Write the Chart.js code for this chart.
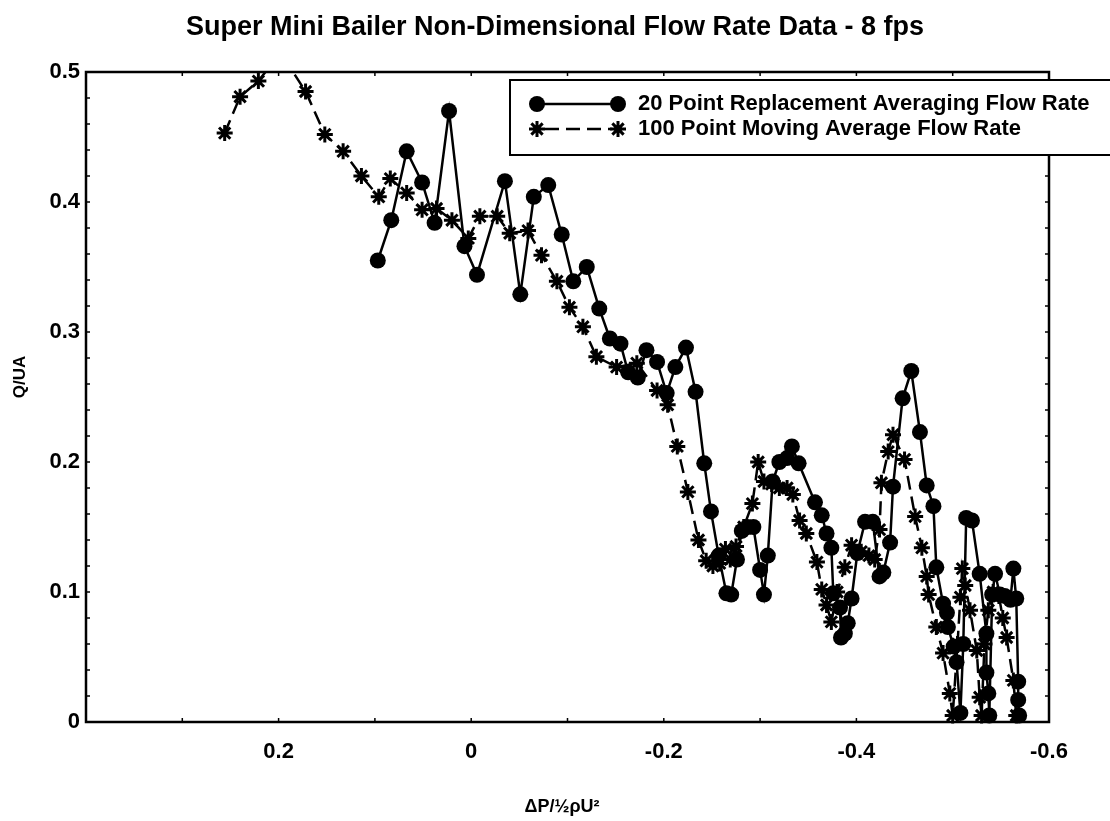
<!DOCTYPE html>
<html><head><meta charset="utf-8">
<script src="https://cdn.jsdelivr.net/npm/chart.js@4.4.0/dist/chart.umd.min.js"></script>
<style>html,body{margin:0;padding:0;background:#fff;}</style>
</head><body>
<canvas id="c" width="1110" height="821"></canvas>
<script>
const chartTitle = 'Super Mini Bailer Non-Dimensional Flow Rate Data - 8 fps';
const xTitle = 'ΔP/½ρU²';
const yTitle = 'Q/UA';
const series1Name = '20 Point Replacement Averaging Flow Rate';
const series2Name = '100 Point Moving Average Flow Rate';
const xTickLabelValues = [0.2, 0, -0.2, -0.4, -0.6];
const yTickLabelValues = [0, 0.1, 0.2, 0.3, 0.4, 0.5];

const s1X = [0.097,0.083,0.067,0.051,0.038,0.023,0.007,-0.006,-0.035,-0.051,-0.065,-0.080,-0.094,-0.106,-0.120,-0.133,-0.144,-0.155,-0.163,-0.173,-0.182,-0.193,-0.203,-0.212,-0.223,-0.233,-0.242,
 -0.249,-0.257,-0.265,-0.270,-0.276,-0.281,-0.287,-0.293,-0.300,-0.304,-0.308,-0.313,-0.320,-0.328,-0.333,-0.340,
 -0.357,-0.364,-0.369,-0.374,-0.376,-0.383,-0.384,-0.388,-0.391,-0.395,-0.401,-0.409,-0.417,-0.424,-0.428,-0.435,-0.438,-0.448,-0.457,-0.466,-0.473,-0.480,-0.483,-0.490,-0.494,-0.495,-0.501,-0.504,-0.508,
 -0.511,-0.514,-0.520,-0.528,-0.535,-0.535,-0.537,-0.538,-0.541,-0.544,-0.549,-0.554,-0.560,-0.563,-0.566,-0.568,-0.568,-0.569];
const s1Y = [0.355,0.386,0.439,0.415,0.384,0.470,0.366,0.344,0.416,0.329,0.404,0.413,0.375,0.339,0.350,0.318,0.295,0.291,0.269,0.265,0.286,0.277,0.253,0.273,0.288,0.254,0.199,
 0.162,0.128,0.099,0.098,0.125,0.147,0.150,0.150,0.117,0.098,0.128,0.185,0.200,0.203,0.212,0.199,
 0.169,0.159,0.145,0.134,0.099,0.088,0.065,0.068,0.076,0.095,0.130,0.154,0.154,0.112,0.115,0.138,0.181,0.249,0.270,0.223,0.182,0.166,0.119,0.091,0.084,0.073,0.058,0.046,0.007,
 0.060,0.157,0.155,0.114,0.068,0.038,0.022,0.005,0.098,0.114,0.098,0.097,0.094,0.118,0.095,0.031,0.017,0.005];

const s2X = [0.256,0.240,0.221,0.198,0.172,0.152,0.133,0.114,0.096,0.084,0.067,0.051,0.036,0.020,0.003,-0.009,-0.027,-0.040,-0.059,-0.073,-0.089,-0.102,-0.116,-0.130,-0.151,-0.172,-0.193,-0.204,-0.214,-0.225,
 -0.236,-0.244,-0.251,-0.258,-0.264,-0.269,-0.275,-0.283,-0.292,-0.298,-0.304,-0.312,-0.320,-0.328,-0.334,-0.341,-0.348,-0.359,-0.364,-0.369,-0.374,-0.380,-0.388,-0.395,-0.405,-0.413,-0.419,-0.424,-0.426,-0.433,-0.438,-0.450,
 -0.461,-0.468,-0.473,-0.475,-0.483,-0.490,-0.497,-0.500,-0.505,-0.508,-0.510,-0.513,-0.518,-0.525,-0.528,-0.530,-0.533,-0.537,-0.542,-0.548,-0.552,-0.556,-0.563,-0.566];
const s2Y = [0.453,0.481,0.493,0.515,0.485,0.452,0.439,0.420,0.404,0.418,0.407,0.394,0.395,0.386,0.372,0.389,0.389,0.376,0.378,0.359,0.339,0.319,0.304,0.281,0.273,0.276,0.255,0.244,0.212,0.177,
 0.140,0.124,0.120,0.122,0.133,0.125,0.135,0.150,0.168,0.200,0.185,0.183,0.180,0.180,0.175,0.155,0.145,0.123,0.102,0.090,0.077,0.100,0.119,0.136,0.131,0.128,0.125,0.148,0.184,0.208,0.221,0.202,
 0.158,0.134,0.112,0.098,0.073,0.053,0.022,0.005,0.060,0.096,0.118,0.105,0.086,0.055,0.019,0.005,0.060,0.086,0.100,0.097,0.080,0.065,0.032,0.005];

const FONT = "'Liberation Sans', Arial, sans-serif";
const toPts = (xs, ys) => xs.map((x, i) => ({x: x, y: ys[i]}));

const bgPlugin = {
  id: 'bg',
  beforeDraw(chart) {
    const ctx = chart.ctx;
    ctx.save(); ctx.fillStyle = '#fff'; ctx.fillRect(0, 0, chart.width, chart.height); ctx.restore();
  }
};

const framePlugin = {
  id: 'frame',
  afterDatasetsDraw(chart) {
    const {ctx, chartArea: a, scales: {x, y}} = chart;
    ctx.save();
    ctx.strokeStyle = '#000';
    ctx.lineWidth = 1.5;
    ctx.beginPath();
    for (let k = 0; k <= 25; k++) {
      const py = y.getPixelForValue(k * 0.02);
      ctx.moveTo(a.left, py); ctx.lineTo(a.left + 4, py);
      ctx.moveTo(a.right, py); ctx.lineTo(a.right - 4, py);
    }
    for (let k = -6; k <= 4; k++) {
      const px = x.getPixelForValue(k * 0.1);
      ctx.moveTo(px, a.bottom); ctx.lineTo(px, a.bottom - 4);
      ctx.moveTo(px, a.top); ctx.lineTo(px, a.top + 4);
    }
    ctx.stroke();
    ctx.lineWidth = 2.5;
    ctx.strokeRect(a.left, a.top, a.right - a.left, a.bottom - a.top);
    ctx.fillStyle = '#000';
    ctx.textAlign = 'center';
    ctx.textBaseline = 'middle';
    ctx.font = 'bold 27px ' + FONT;
    ctx.fillText(chartTitle, 555, 28);
    ctx.font = 'bold 18px ' + FONT;
    ctx.fillText(xTitle, 562, 807);
    ctx.translate(20, 377);
    ctx.rotate(-Math.PI / 2);
    ctx.font = 'bold 17px ' + FONT;
    ctx.fillText(yTitle, 0, 0);
    ctx.restore();
  }
};

function drawStar(ctx, cx, cy, r) {
  ctx.beginPath();
  for (let k = 0; k < 4; k++) {
    const ang = k * Math.PI / 4;
    ctx.moveTo(cx - r * Math.cos(ang), cy - r * Math.sin(ang));
    ctx.lineTo(cx + r * Math.cos(ang), cy + r * Math.sin(ang));
  }
  ctx.stroke();
}

const legendPlugin = {
  id: 'customLegend',
  afterDraw(chart) {
    const ctx = chart.ctx;
    ctx.save();
    ctx.fillStyle = '#fff';
    ctx.fillRect(510, 80, 620, 75);
    ctx.strokeStyle = '#000'; ctx.lineWidth = 2;
    ctx.strokeRect(510, 80, 620, 75);
    ctx.lineWidth = 2.5;
    ctx.beginPath(); ctx.moveTo(537, 104); ctx.lineTo(618, 104); ctx.stroke();
    ctx.fillStyle = '#000';
    [537, 618].forEach(cx => { ctx.beginPath(); ctx.arc(cx, 104, 8, 0, Math.PI * 2); ctx.fill(); });
    ctx.setLineDash([14, 7]);
    ctx.beginPath(); ctx.moveTo(545, 129); ctx.lineTo(612, 129); ctx.stroke();
    ctx.setLineDash([]);
    ctx.lineWidth = 3;
    [537, 618].forEach(cx => drawStar(ctx, cx, 129, 8));
    ctx.fillStyle = '#000';
    ctx.font = 'bold 22px ' + FONT;
    ctx.textBaseline = 'middle';
    ctx.textAlign = 'left';
    ctx.fillText(series1Name, 638, 104);
    ctx.fillText(series2Name, 638, 129);
    ctx.restore();
  }
};

new Chart(document.getElementById('c'), {
  type: 'scatter',
  data: {
    datasets: [
      {
        label: series1Name,
        data: toPts(s1X, s1Y),
        showLine: true,
        borderColor: '#000',
        backgroundColor: '#000',
        borderWidth: 2.5,
        pointStyle: 'circle',
        pointRadius: 8,
        pointBorderWidth: 0,
        pointBackgroundColor: '#000',
        tension: 0,
        clip: {left: 10, right: 10, top: 0, bottom: 12}
      },
      {
        label: series2Name,
        data: toPts(s2X, s2Y),
        showLine: true,
        borderColor: '#000',
        backgroundColor: '#000',
        borderWidth: 2.5,
        borderDash: [14, 7],
        pointStyle: 'star',
        pointRadius: 8,
        pointBorderWidth: 3,
        pointBorderColor: '#000',
        tension: 0,
        clip: {left: 10, right: 10, top: 0, bottom: 12}
      }
    ]
  },
  options: {
    responsive: false,
    animation: false,
    devicePixelRatio: 1,
    layout: {padding: {left: 0, right: 61, top: 72, bottom: 0}},
    plugins: {
      legend: {display: false},
      tooltip: {enabled: false},
      title: {display: false, text: chartTitle}
    },
    scales: {
      x: {
        type: 'linear',
        reverse: true,
        min: -0.6,
        max: 0.4,
        afterFit(s) { s.height = 99; },
        afterBuildTicks(s) {
          s.ticks = [];
          for (let k = -6; k <= 4; k++) s.ticks.push({value: k / 10});
        },
        grid: {display: false, drawTicks: false, tickLength: 0},
        border: {display: false},
        ticks: {
          color: '#000',
          padding: 17,
          maxRotation: 0,
          autoSkip: false,
          font: {family: FONT, size: 22, weight: 'bold'},
          callback(v) {
            const r = Math.round(v * 10);
            const hit = xTickLabelValues.find(t => Math.round(t * 10) === r);
            if (hit === undefined) return '';
            return hit === 0 ? '0' : hit.toFixed(1);
          }
        },
        title: {display: false, text: xTitle}
      },
      y: {
        type: 'linear',
        min: 0,
        max: 0.5,
        afterFit(s) { s.width = 86; },
        afterBuildTicks(s) {
          s.ticks = yTickLabelValues.map(v => ({value: v}));
        },
        grid: {display: false, drawTicks: false, tickLength: 0},
        border: {display: false},
        ticks: {
          color: '#000',
          padding: 6,
          font: {family: FONT, size: 22, weight: 'bold'},
          callback(v) { return v === 0 ? '0' : v.toFixed(1); }
        },
        title: {display: false, text: yTitle}
      }
    }
  },
  plugins: [bgPlugin, framePlugin, legendPlugin]
});
</script>
</body></html>
